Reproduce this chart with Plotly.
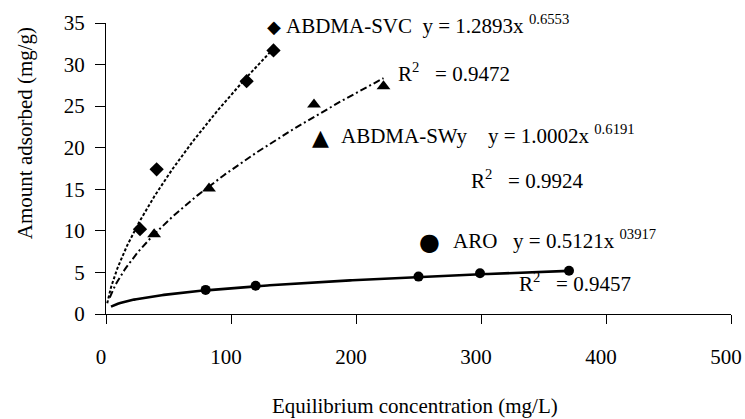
import numpy as np
import plotly.graph_objects as go

# ---- data ----
svc_x = [27.2, 40.5, 112.5, 134.0]
svc_y = [10.2, 17.4, 28.0, 31.7]
swy_x = [38.5, 82.4, 166.4, 222.0]
swy_y = [9.6, 15.1, 25.2, 27.4]
aro_x = [79.7, 119.7, 250.0, 299.2, 370.4]
aro_y = [2.9, 3.4, 4.5, 4.9, 5.2]

# power trendlines y = a*x^b as printed on the chart
svc_fit = [1.2893, 0.6553]
swy_fit = [1.0002, 0.6191]
aro_fit = [0.5121, 0.3917]
svc_fit_range = [1, 135]
swy_fit_range = [3, 222]
aro_fit_range = [4, 370]

x_ticks = [0, 100, 200, 300, 400, 500]
y_ticks = [0, 5, 10, 15, 20, 25, 30, 35]

FONT = "Times New Roman, Liberation Serif, DejaVu Serif, serif"
W, H = 745, 419
L, R, T, B = 106, 731, 22.7, 314.0


def P(X, Y):
    return (X - L) / (R - L), (B - Y) / (B - T)


def fit_curve(coef, rng):
    xs = np.linspace(rng[0], rng[1], 200)
    return xs, coef[0] * xs ** coef[1]


fig = go.Figure()

for coef, rng, dash, w in [
    (svc_fit, svc_fit_range, "3px,2px", 2),
    (swy_fit, swy_fit_range, "7px,3px,2px,3px", 2),
    (aro_fit, aro_fit_range, "solid", 2.6),
]:
    xs, ys = fit_curve(coef, rng)
    fig.add_trace(go.Scatter(x=xs, y=ys, mode="lines",
                             line=dict(color="black", width=w, dash=dash),
                             showlegend=False, hoverinfo="skip"))

fig.add_trace(go.Scatter(x=svc_x, y=svc_y, mode="markers",
                         marker=dict(symbol="diamond", size=11, color="black"),
                         showlegend=False))
fig.add_trace(go.Scatter(x=swy_x, y=swy_y, mode="markers",
                         marker=dict(symbol="triangle-up", size=12, color="black"),
                         showlegend=False))
fig.add_trace(go.Scatter(x=aro_x, y=aro_y, mode="markers",
                         marker=dict(symbol="circle", size=10, color="black"),
                         showlegend=False))

NB = "\u00a0"
annots = []


def add(text, X, Y, size=21, xanchor="left", angle=0, family=FONT):
    px, py = P(X, Y)
    annots.append(dict(text=text, x=px, y=py, xref="paper", yref="paper",
                       xanchor=xanchor, yanchor="middle", showarrow=False,
                       textangle=angle,
                       font=dict(family=family, size=size, color="black")))


add("◆", 265, 26, size=18, family="DejaVu Sans")
add("ABDMA-SVC" + NB * 2 + "y = 1.2893x <sup>0.6553</sup>", 284, 24)
add("R<sup>2</sup>" + NB * 3 + "= 0.9472", 396, 72)
add("▲", 310, 137, size=22, family="DejaVu Sans")
add("ABDMA-SWy" + NB * 4 + "y = 1.0002x <sup>0.6191</sup>", 339, 134)
add("R<sup>2</sup>" + NB * 3 + "= 0.9924", 469, 179)
add("●", 417, 242, size=24, family="DejaVu Sans")
add("ARO" + NB * 3 + "y = 0.5121x <sup>03917</sup>", 451, 239)
add("R<sup>2</sup>" + NB * 3 + "= 0.9457", 517, 282)
add("Equilibrium concentration (mg/L)", 415, 406, xanchor="center")
add("Amount adsorbed (mg/g)", 25, 133, xanchor="center", angle=-90)

fig.update_layout(
    width=W, height=H,
    margin=dict(l=L, r=W - R, t=T, b=H - B, pad=0),
    plot_bgcolor="white", paper_bgcolor="white",
    font=dict(family=FONT, size=21, color="black"),
    annotations=annots,
    xaxis=dict(range=[0, 500], tickvals=x_ticks, showgrid=False, zeroline=False,
               showline=True, linecolor="black", linewidth=1,
               ticks="outside", ticklen=9, tickcolor="black",
               ticklabelstandoff=15, ticklabeloverflow="allow",
               ticklabelshift=-5, automargin=False),
    yaxis=dict(range=[0, 35], tickvals=y_ticks, showgrid=False, zeroline=False,
               showline=True, linecolor="black", linewidth=1,
               ticks="outside", ticklen=10, tickcolor="black",
               ticklabelstandoff=6, ticklabeloverflow="allow",
               automargin=False),
)

fig.write_html("out.html")
